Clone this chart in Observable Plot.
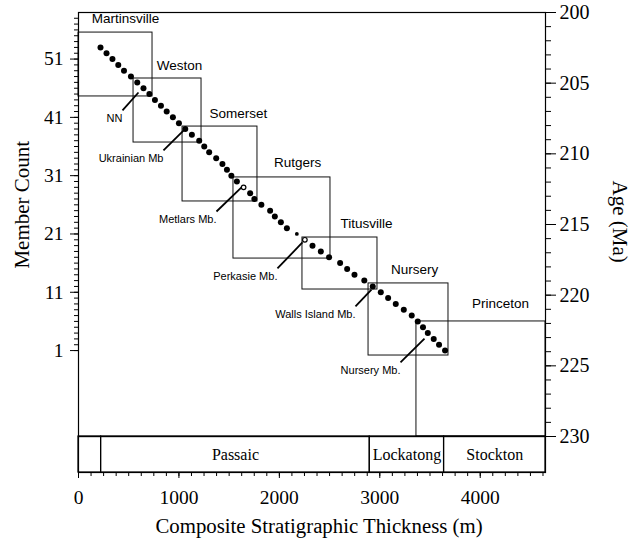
<!DOCTYPE html>
<html>
<head>
<meta charset="utf-8">
<script src="https://cdn.jsdelivr.net/npm/d3@7"></script>
<script src="https://cdn.jsdelivr.net/npm/@observablehq/plot@0.6"></script>
<style>
  html, body { margin: 0; padding: 0; background: #fff; }
  #chart { width: 634px; }
  #chart svg { display: block; }
</style>
</head>
<body>
<div id="chart"></div>
<script>
// ---- Member count (Van Houten cycles) vs. composite thickness ----
const memberCount = [1, 2, 3, 4, 5, 6, 7, 8, 9, 10, 11, 12, 13, 14, 15, 16, 17, 18, 19, 20,
  21, 22, 23, 24, 25, 26, 27, 28, 29, 30, 31, 32, 33, 34, 35, 36, 37, 38, 39, 40,
  41, 42, 43, 44, 45, 46, 47, 48, 49, 50, 51, 52, 53];
const memberThickness = [3650, 3590, 3537, 3478, 3430, 3378, 3318, 3239, 3159, 3083,
  3010, 2930, 2846, 2748, 2675, 2605, 2495, 2413, 2330, 2254,
  2174, 2075, 2015, 1955, 1908, 1821, 1751, 1709, 1644, 1577,
  1522, 1478, 1433, 1371, 1301, 1252, 1202, 1129, 1063, 1000,
  940, 878, 821, 761, 706, 647, 585, 522, 453, 396, 338, 279, 219];

// Members drawn with open or reduced symbols
const openMembers = [20, 29];
const smallMembers = [21];

// ---- Cores: thickness span (m) and age span (Ma) ----
const coreNames = ["Martinsville", "Weston", "Somerset", "Rutgers", "Titusville", "Nursery", "Princeton"];
const coreFrom = [0, 548, 1036, 1543, 2230, 2888, 3365];
const coreTo = [737, 1225, 1782, 2509, 2977, 3684, 4650];
const coreYoung = [201.42, 204.67, 208.07, 211.67, 215.92, 219.17, 221.86];
const coreOld = [205.94, 209.20, 213.37, 217.41, 219.60, 224.27, 230];
const coreLabelX = [468, 1006, 1593, 2181, 2868, 3346, 4202];
const coreLabelAge = [200.42, 203.75, 207.15, 210.61, 214.93, 218.18, 220.59];

// ---- Marker members with leader lines ----
const markerNames = ["NN", "Ukrainian Mb", "Metlars Mb.", "Perkasie Mb.", "Walls Island Mb.", "Nursery Mb."];
const markerFromX = [438, 846, 1374, 1981, 2758, 3206];
const markerFromAge = [206.93, 209.76, 214.08, 218.11, 220.80, 224.76];
const markerToX = [597, 1045, 1623, 2230, 2917, 3445];
const markerToAge = [205.66, 208.35, 212.38, 216.27, 219.60, 223.07];

// ---- Formations along the thickness axis ----
const formationNames = ["", "Passaic", "Lockatong", "Stockton"];
const formationFrom = [0, 225, 2900, 3640];
const formationTo = [225, 2900, 3640, 4650];

// ---- Axes ----
const thicknessDomain = [0, 4650];
const ageDomain = [200, 230];
const countMajorTicks = [1, 11, 21, 31, 41, 51];
const countMinorTicks = d3.range(1, 59);
const ageMajorTicks = [200, 205, 210, 215, 220, 225, 230];
const ageMinorTicks = d3.range(200, 231);
const thicknessMajorTicks = [0, 1000, 2000, 3000, 4000];
const thicknessMinorTicks = d3.range(0, 4651, 125);

// Axis titles, placed along the age axis
const axisTitles = [
  {text: "Member Count", x: 0, age: 213.6, side: "left"},
  {text: "Age (Ma)", x: 4650, age: 214.8, side: "right"}
];

// Member count and age share the vertical axis
const AGE_AT_MEMBER_1 = 223.92;
const MA_PER_MEMBER = 0.4125;
const ageOfCount = c => AGE_AT_MEMBER_1 - (c - 1) * MA_PER_MEMBER;
const countOfAge = a => 1 + (AGE_AT_MEMBER_1 - a) / MA_PER_MEMBER;

const members = memberCount.map((c, i) => ({count: c, thickness: memberThickness[i], age: ageOfCount(c)}));
const cores = coreNames.map((name, i) => ({
  name, from: coreFrom[i], to: coreTo[i], young: coreYoung[i], old: coreOld[i],
  lx: coreLabelX[i], la: coreLabelAge[i]
}));
const markers = markerNames.map((name, i) => ({
  name, x1: markerFromX[i], a1: markerFromAge[i], x2: markerToX[i], a2: markerToAge[i]
}));
const formations = formationNames.map((name, i) => ({name, from: formationFrom[i], to: formationTo[i]}));

const SERIF = "Liberation Serif, Times New Roman, serif";
const SANS = "Liberation Sans, Arial, Helvetica, sans-serif";
const W = 634, ML = 78, MR = 89;
const baseStyle = {background: "white", color: "black", fontFamily: SERIF, fontSize: "19.5px", overflow: "visible"};

// Upper panel: members, cores and the two vertical scales
const main = Plot.plot({
  width: W, height: 436,
  marginTop: 12, marginBottom: 0, marginLeft: ML, marginRight: MR,
  x: {domain: thicknessDomain, axis: null},
  y: {domain: ageDomain, reverse: true, axis: null},
  style: baseStyle,
  marks: [
    Plot.rect(cores, {x1: "from", x2: "to", y1: "young", y2: "old", fill: "none", stroke: "#111", strokeWidth: 1}),
    Plot.frame({stroke: "black", strokeWidth: 1.2}),
    Plot.link(markers, {x1: "x1", y1: "a1", x2: "x2", y2: "a2", stroke: "black", strokeWidth: 1.8}),
    Plot.dot(members.filter(d => !openMembers.includes(d.count) && !smallMembers.includes(d.count)),
      {x: "thickness", y: "age", r: 3, fill: "black", stroke: "none"}),
    Plot.dot(members.filter(d => smallMembers.includes(d.count)),
      {x: "thickness", y: "age", r: 1.9, fill: "black", stroke: "none"}),
    Plot.dot(members.filter(d => openMembers.includes(d.count)),
      {x: "thickness", y: "age", r: 2.3, fill: "white", stroke: "black", strokeWidth: 1.2}),
    Plot.text(cores, {x: "lx", y: "la", text: "name", fontFamily: SANS, fontSize: 13.5, fill: "black"}),
    Plot.text(markers, {x: "x1", y: "a1", text: "name", textAnchor: "end", dy: 8, fontFamily: SANS, fontSize: 11, fill: "black"}),
    // Member count (left)
    Plot.axisY(countMinorTicks.map(ageOfCount), {anchor: "left", tickSize: 4, tickFormat: () => "", label: null}),
    Plot.axisY(countMajorTicks.map(ageOfCount), {anchor: "left", tickSize: 8, tickPadding: 7,
      tickFormat: a => String(Math.round(countOfAge(a))), label: null, fontSize: 19.5}),
    // Age (right)
    Plot.axisY(ageMinorTicks, {anchor: "right", tickSize: 5, tickFormat: () => "", label: null}),
    Plot.axisY(ageMajorTicks, {anchor: "right", tickSize: 10, tickPadding: 4, tickFormat: d => String(d), label: null, fontSize: 20}),
    // Axis titles
    Plot.text(axisTitles.filter(d => d.side === "left"), {x: "x", y: "age", text: "text", dx: -56, rotate: -90, fontSize: 21, fill: "black"}),
    Plot.text(axisTitles.filter(d => d.side === "right"), {x: "x", y: "age", text: "text", dx: 74, rotate: 90, fontSize: 21, fill: "black"})
  ]
});

// Lower panel: formation band and thickness axis
const band = Plot.plot({
  width: W, height: 111,
  marginTop: 0, marginBottom: 75, marginLeft: ML, marginRight: MR,
  x: {domain: thicknessDomain},
  style: baseStyle,
  marks: [
    Plot.rect(formations, {x1: "from", x2: "to", fill: "none", stroke: "black", strokeWidth: 1.2}),
    Plot.text(formations, {x: d => (d.from + d.to) / 2, text: "name", fontSize: 16, fill: "black"}),
    Plot.frame({stroke: "black", strokeWidth: 1.2}),
    Plot.axisX(thicknessMinorTicks, {anchor: "bottom", tickSize: 4, tickFormat: () => "", label: null}),
    Plot.axisX(thicknessMajorTicks, {anchor: "bottom", tickSize: 6, tickPadding: 12, tickFormat: d => String(d), label: null, fontSize: 19.5}),
    Plot.text(["Composite Stratigraphic Thickness (m)"], {text: d => d, frameAnchor: "bottom", dx: 7, dy: 60, fontSize: 20.8, fill: "black"})
  ]
});

document.getElementById("chart").append(main, band);
</script>
</body>
</html>
